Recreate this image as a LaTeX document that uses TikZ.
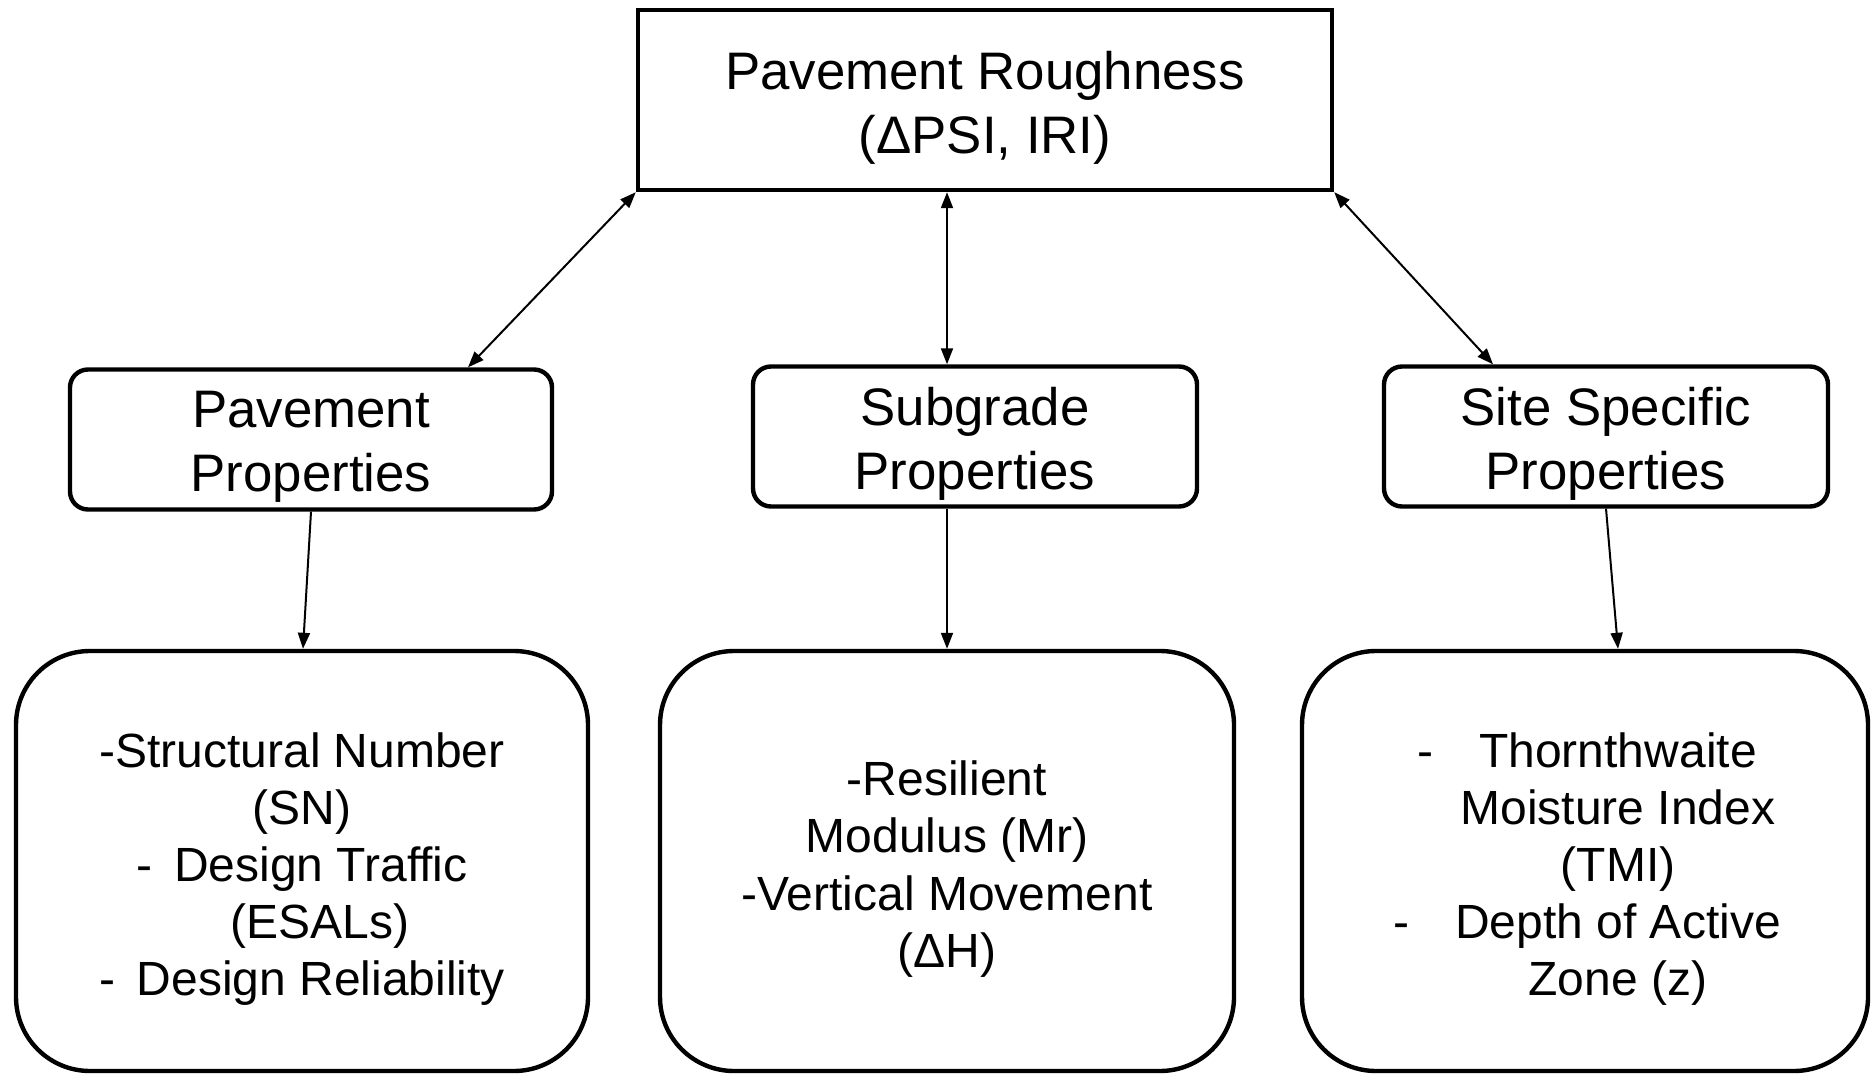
\documentclass[tikz,border=0pt]{standalone}
\usepackage{fontspec}
\setmainfont{Liberation Sans}
\usetikzlibrary{arrows.meta}
\begin{document}
\begin{tikzpicture}[x=0.5pt,y=-0.5pt,
  box/.style={draw,line width=2.2pt,inner sep=0pt},
  topbox/.style={box,minimum width=347pt,minimum height=90pt},
  midbox/.style={box,rounded corners=9pt,minimum height=70pt},
  lowbox/.style={box,rounded corners=37pt,minimum height=210pt},
  bigtext/.style={inner sep=0pt,align=center,font=\fontsize{26.4}{32}\selectfont},
  lowtext/.style={inner sep=0pt,align=center,font=\fontsize{24}{28.6}\selectfont},
  twoway/.style={line width=1pt,{Triangle[length=8pt,width=6pt]}-{Triangle[length=8pt,width=6pt]}},
  oneway/.style={line width=1pt,-{Triangle[length=8pt,width=6pt]}}]

\useasboundingbox (0,0) rectangle (1871,1074);

% top level
\node[topbox] (top) at (985,100) {};
\node[bigtext] (topt) at (985,108) {Pavement Roughness\\(ΔPSI, IRI)};

% property groups
\node[midbox,minimum width=241pt] (pl) at (311,439.5) {};
\node[midbox,minimum width=222pt] (pm) at (975,436.5) {};
\node[midbox,minimum width=222pt] (pr) at (1606,436.5) {};
\node[bigtext] (plt) at (311,447) {Pavement\\Properties};
\node[bigtext] (pmt) at (975,444) {Subgrade\\Properties};
\node[bigtext] (prt) at (1606,444) {Site Specific\\Properties};

% detail boxes
\node[lowbox,minimum width=286pt] (bl) at (302,861) {};
\node[lowbox,minimum width=287pt] (bm) at (947,861) {};
\node[lowbox,minimum width=283pt] (br) at (1585,861) {};
\node[lowtext] (blt) at (302,869)
  {-Structural Number\\(SN)\\-\hspace{0.45em}Design Traffic\\\hspace*{18pt}(ESALs)\\-\hspace{0.45em}Design Reliability};
\node[lowtext] (bmt) at (947,869)
  {-Resilient\\Modulus (Mr)\\-Vertical Movement\\(ΔH)};
\node[lowtext] (brt) at (1618,869)
  {\llap{-\hspace{23pt}}Thornthwaite\\Moisture Index\\(TMI)\\\llap{-\hspace{23pt}}Depth of Active\\Zone (z)};

% connectors
\draw[twoway] (top.south west) -- ([xshift=78.5pt]pl.north);
\draw[twoway] ([xshift=-19pt]top.south) -- ([xshift=-14pt]pm.north);
\draw[twoway] (top.south east) -- ([xshift=-56.5pt]pr.north);

\draw[oneway] (pl.south) -- ([xshift=0.5pt]bl.north);
\draw[oneway] ([xshift=-14pt]pm.south) -- (bm.north);
\draw[oneway] (pr.south) -- ([xshift=16.5pt]br.north);
\end{tikzpicture}
\end{document}
